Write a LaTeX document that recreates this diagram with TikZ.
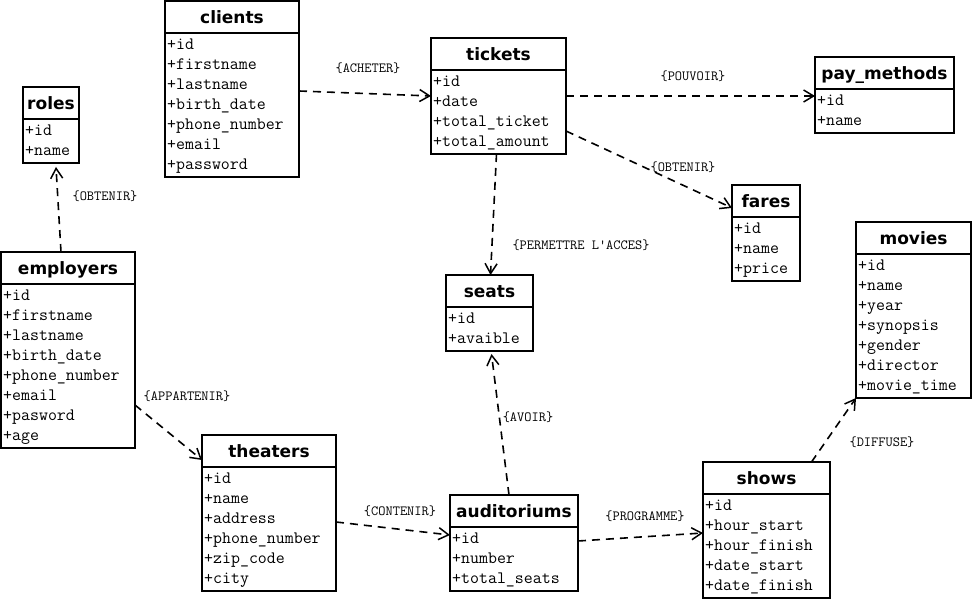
\documentclass[tikz,border=0pt]{standalone}
\usepackage{fontspec}
\newfontfamily\titlefont{DejaVu Sans}[BoldFont={DejaVu Sans Bold}]
\usetikzlibrary{arrows.meta,calc}

% UML class: name, left x, top y, width, number of attributes, title, attribute list
\newcommand{\umlclass}[7]{%
  \pgfmathsetmacro{\ucH}{32+20*#5+4}%
  \node[classbox, minimum width=#4pt, minimum height=\ucH pt, anchor=north west] (#1) at (#2,#3) {};
  \draw[boxline] ($(#1.north west)+(0,32)$) -- ($(#1.north east)+(0,32)$);
  \node[classtitle, anchor=base] (#1-title) at ($(#1.north)+(0,22.5)$) {#6};
  \foreach \a [count=\i from 0] in {#7}
    \node[attr, anchor=base west] at ($(#1.north west)+(2,{48.5+20*\i})$) {\a};
}

\tikzset{
  boxline/.style={line width=1.8pt},
  classbox/.style={draw, line width=1.8pt, fill=white, inner sep=0pt, outer sep=0pt},
  classtitle/.style={font=\titlefont\bfseries\fontsize{17}{19}\selectfont, inner sep=0pt},
  attr/.style={font=\ttfamily\fontsize{17.4}{20}\selectfont, inner sep=0pt},
  rel/.style={line width=1.6pt, dash pattern=on 8pt off 6pt,
    -{Straight Barb[length=10pt,width=12pt,line width=1.5pt]}},
  rlabel/.style={font=\ttfamily\fontsize{14}{16}\selectfont, inner sep=0pt},
}

\begin{document}
\begin{tikzpicture}[x=1pt, y=-1pt]
\useasboundingbox[fill=white] (0,0) rectangle (974,601);

\umlclass{clients}{165}{1}{134}{7}{clients}{+id,+firstname,+lastname,+birth\_date,+phone\_number,+email,+password}
\umlclass{roles}{23}{87}{56}{2}{roles}{+id,+name}
\umlclass{employers}{1}{252}{134}{8}{employers}{+id,+firstname,+lastname,+birth\_date,+phone\_number,+email,+pasword,+age}
\umlclass{tickets}{431}{38}{135}{4}{tickets}{+id,+date,+total\_ticket,+total\_amount}
\umlclass{paymethods}{815}{57}{139}{2}{pay\_methods}{+id,+name}
\umlclass{fares}{732}{185}{68}{3}{fares}{+id,+name,+price}
\umlclass{movies}{856}{222}{115}{7}{movies}{+id,+name,+year,+synopsis,+gender,+director,+movie\_time}
\umlclass{seats}{446}{275}{87}{2}{seats}{+id,+avaible}
\umlclass{theaters}{202}{435}{134}{6}{theaters}{+id,+name,+address,+phone\_number,+zip\_code,+city}
\umlclass{auditoriums}{450}{495}{128}{3}{auditoriums}{+id,+number,+total\_seats}
\umlclass{shows}{703}{462}{127}{5}{shows}{+id,+hour\_start,+hour\_finish,+date\_start,+date\_finish}

% relationships
\draw[rel] ($(clients.north east)+(0,90)$) -- ($(tickets.north west)+(0,58)$);
\draw[rel] ($(tickets.north east)+(0,58)$) -- ($(paymethods.north west)+(0,39)$);
\draw[rel] ($(tickets.north east)+(0,93)$) -- (fares.north west |- fares-title.south);
\draw[rel] ($(tickets.south)+(-2,0)$) -- ($(seats.north)+(1,0)$);
\draw[rel] ($(employers.north)+(-7,0)$) -- ($(roles.south)+(5,4)$);
\draw[rel] ($(employers.north east)+(0,153)$) -- ($(theaters.north west)+(0,25)$);
\draw[rel] ($(theaters.north east)+(0,87)$) -- ($(auditoriums.north west)+(0,40)$);
\draw[rel] ($(auditoriums.north)+(-5,0)$) -- ($(seats.south)+(2,3)$);
\draw[rel] ($(auditoriums.north east)+(0,46)$) -- ($(shows.north west)+(0,71)$);
\draw[rel] ($(shows.north)+(45,0)$) -- (movies.south west);

% relationship names
\node[rlabel] at (368,68) {\{ACHETER\}};
\node[rlabel] at (693,76) {\{POUVOIR\}};
\node[rlabel] at (683,167) {\{OBTENIR\}};
\node[rlabel] at (581,245) {\{PERMETTRE L'ACCES\}};
\node[rlabel] at (105,196) {\{OBTENIR\}};
\node[rlabel] at (187,396) {\{APPARTENIR\}};
\node[rlabel] at (400,511) {\{CONTENIR\}};
\node[rlabel] at (528,417) {\{AVOIR\}};
\node[rlabel] at (645,516) {\{PROGRAMME\}};
\node[rlabel] at (882,442) {\{DIFFUSE\}};
\end{tikzpicture}
\end{document}
